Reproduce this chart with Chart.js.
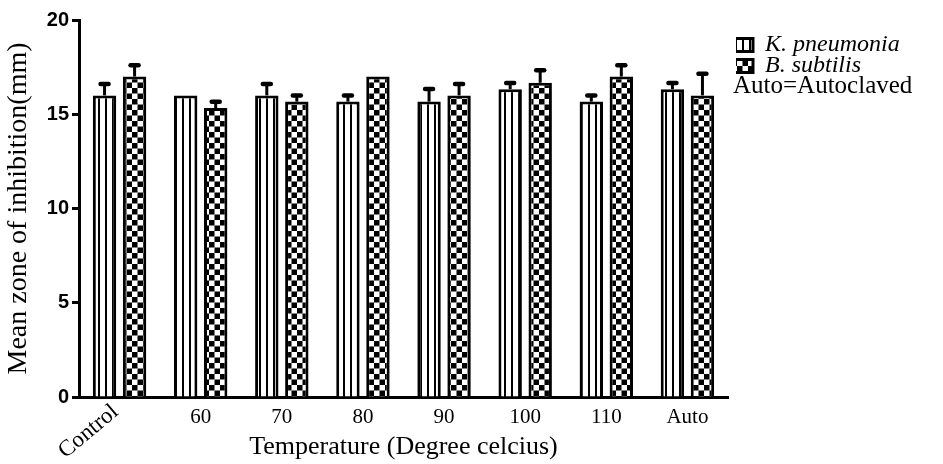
<!DOCTYPE html>
<html>
<head>
<meta charset="utf-8">
<script src="https://cdn.jsdelivr.net/npm/chart.js@4.4.1/dist/chart.umd.min.js"></script>
<style>
  html, body { margin: 0; padding: 0; background: #fff; }
  #wrap { width: 943px; height: 464px; position: relative; }
</style>
</head>
<body>
<div id="wrap"><canvas id="c" width="943" height="464"></canvas></div>
<script>
// ---- data ----
const categories = ['Control', '60', '70', '80', '90', '100', '110', 'Auto'];
const seriesNames = ['K. pneumonia', 'B. subtilis'];
const kpneumonia = [16, 16, 16, 15.67, 15.67, 16.33, 15.67, 16.33];
const kpneumoniaErr = [0.6, 0, 0.6, 0.33, 0.67, 0.33, 0.33, 0.33];
const bsubtilis = [17, 15.33, 15.67, 17, 16, 16.67, 17, 16];
const bsubtilisErr = [0.6, 0.33, 0.33, 0, 0.6, 0.67, 0.6, 1.15];
const yTicks = [0, 5, 10, 15, 20];
const xTitle = 'Temperature (Degree celcius)';
const yTitle = 'Mean zone of inhibition(mm)';
const noteText = 'Auto=Autoclaved';

const SERIF = '"Liberation Serif", "Times New Roman", serif';

// ---- patterns ----
function stripePattern() {
  const c = document.createElement('canvas');
  c.width = 7; c.height = 4;
  const x = c.getContext('2d');
  x.fillStyle = '#fff'; x.fillRect(0, 0, 7, 4);
  x.fillStyle = '#000'; x.fillRect(0, 0, 2, 4);
  return x.createPattern(c, 'repeat');
}
function checkerPattern() {
  const c = document.createElement('canvas');
  c.width = 11; c.height = 11;
  const x = c.getContext('2d');
  x.fillStyle = '#fff'; x.fillRect(0, 0, 11, 11);
  x.fillStyle = '#000'; x.fillRect(0, 0, 5.5, 5.5); x.fillRect(5.5, 5.5, 5.5, 5.5);
  return x.createPattern(c, 'repeat');
}

const errors = [kpneumoniaErr, bsubtilisErr];

const errorBarPlugin = {
  id: 'errorBars',
  afterDatasetsDraw(chart) {
    const ctx = chart.ctx;
    const y = chart.scales.y;
    chart.data.datasets.forEach((ds, i) => {
      const meta = chart.getDatasetMeta(i);
      meta.data.forEach((bar, j) => {
        const e = errors[i][j];
        if (!e) return;
        const yTop = y.getPixelForValue(ds.data[j] + e);
        ctx.save();
        ctx.strokeStyle = '#000';
        ctx.lineWidth = 3;
        ctx.beginPath();
        ctx.moveTo(bar.x, bar.y);
        ctx.lineTo(bar.x, yTop);
        ctx.stroke();
        ctx.lineCap = 'round';
        ctx.lineWidth = 4.5;
        ctx.beginPath();
        ctx.moveTo(bar.x - 4, yTop);
        ctx.lineTo(bar.x + 4, yTop);
        ctx.stroke();
        ctx.restore();
      });
    });
  }
};

const legendShiftPlugin = {
  id: 'legendShift',
  afterLayout(chart) {
    const lg = chart.legend;
    lg.left += 8; lg.right += 8;
    lg.top += 16; lg.bottom += 16;
  }
};

const extraTextPlugin = {
  id: 'extraText',
  afterDraw(chart) {
    const ctx = chart.ctx;
    const xs = chart.scales.x;
    // rotated first category label
    ctx.save();
    ctx.fillStyle = '#000';
    ctx.font = '23px ' + SERIF;
    ctx.translate(xs.getPixelForTick(0) - 4, xs.top + 12);
    ctx.rotate(-40 * Math.PI / 180);
    ctx.textAlign = 'right';
    ctx.textBaseline = 'middle';
    ctx.fillText(categories[0], 0, 0);
    ctx.restore();
    // note under legend
    const hb = chart.legend.legendHitBoxes;
    if (hb && hb.length) {
      ctx.save();
      ctx.fillStyle = '#000';
      ctx.font = '25px ' + SERIF;
      ctx.textAlign = 'left';
      ctx.textBaseline = 'middle';
      const last = hb[hb.length - 1];
      ctx.fillText(noteText, hb[0].left, last.top + last.height / 2 + 20);
      ctx.restore();
    }
  }
};

const chart = new Chart(document.getElementById('c'), {
  type: 'bar',
  data: {
    labels: categories,
    datasets: [
      { label: seriesNames[0], data: kpneumonia, backgroundColor: stripePattern(), borderColor: '#000', borderWidth: 3,
        categoryPercentage: 0.74, barPercentage: 0.78 },
      { label: seriesNames[1], data: bsubtilis, backgroundColor: checkerPattern(), borderColor: '#000', borderWidth: 3,
        categoryPercentage: 0.74, barPercentage: 0.78 }
    ]
  },
  options: {
    responsive: false,
    devicePixelRatio: 1,
    animation: false,
    layout: { padding: { top: 20, left: 0, right: 0, bottom: 0 } },
    plugins: {
      tooltip: { enabled: false },
      legend: {
        position: 'right',
        align: 'start',
        labels: {
          color: '#000',
          boxWidth: 20,
          boxHeight: 13,
          padding: -3,
          font: { family: SERIF, style: 'italic', size: 24 }
        }
      }
    },
    scales: {
      x: {
        grid: { display: false, drawTicks: false },
        border: { display: true, color: '#000', width: 3 },
        ticks: {
          color: '#000', autoSkip: false, maxRotation: 0, minRotation: 0, padding: 8,
          font: { family: SERIF, size: 21 },
          callback: (v, i) => i === 0 ? '' : categories[i]
        },
        title: { display: true, text: xTitle, color: '#000', font: { family: SERIF, size: 26 }, padding: { top: 0, bottom: 1 } },
        afterFit: (s) => { s.height = 67; }
      },
      y: {
        min: 0, max: 20,
        afterBuildTicks: (s) => { s.ticks = yTicks.map(v => ({ value: v })); },
        grid: { drawOnChartArea: false, drawTicks: true, tickLength: 7, tickWidth: 3, tickColor: '#000' },
        border: { display: true, color: '#000', width: 3 },
        ticks: { color: '#000', padding: 3, font: { family: '"Liberation Sans", Arial, sans-serif', weight: 'bold', size: 20 } },
        title: { display: true, text: yTitle, color: '#000', font: { family: SERIF, size: 28 }, padding: { top: 2, bottom: 0 } },
        afterFit: (s) => { s.width = 79; }
      }
    }
  },
  plugins: [errorBarPlugin, legendShiftPlugin, extraTextPlugin]
});

// place the plot's right edge where the reference has it
const diff = 728 - chart.chartArea.right;
chart.options.layout.padding.right = Math.max(0, -diff);
chart.update('none');
</script>
</body>
</html>
